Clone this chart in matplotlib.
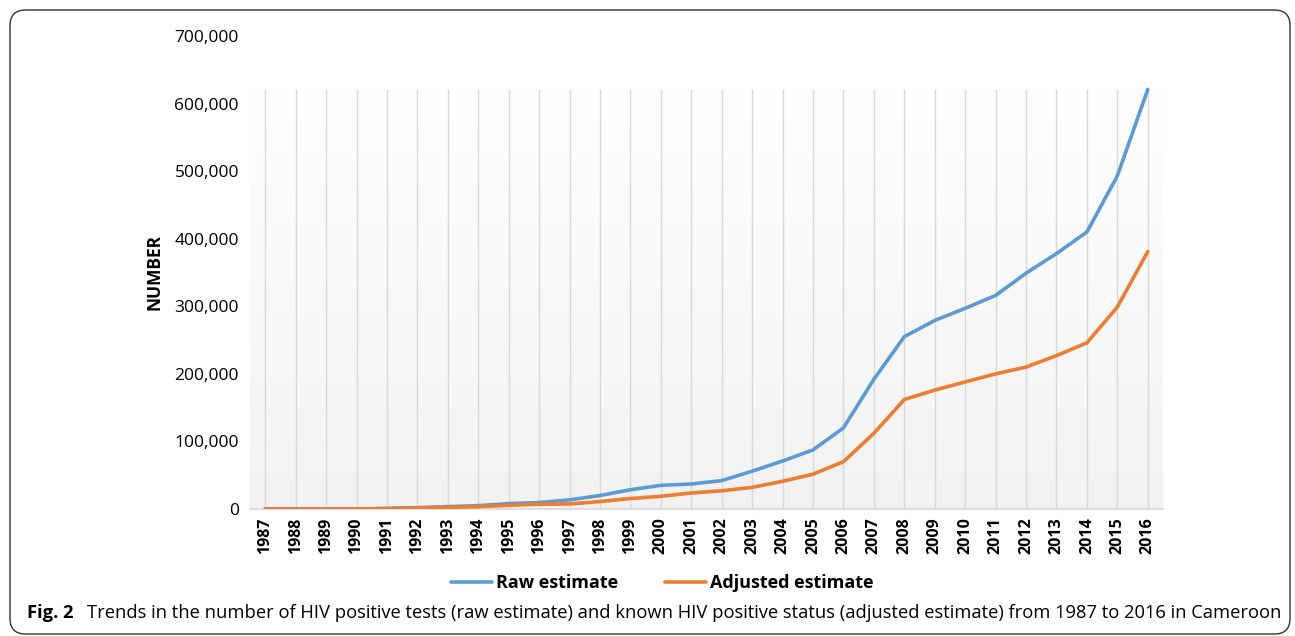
import matplotlib
matplotlib.use("Agg")
import matplotlib.pyplot as plt
import numpy as np
from matplotlib.patches import FancyBboxPatch
from matplotlib.ticker import FuncFormatter

years = list(range(1987, 2017))
raw_estimate = [0, 0, 0, 0, 1000, 2000, 3500, 5000, 8000, 9500,
                13500, 20000, 28500, 35000, 37000, 42000, 56000, 71000, 87500, 120000,
                192000, 255000, 279000, 297000, 316000, 349000, 378000, 410000, 493000, 621000]
adjusted_estimate = [0, 0, 0, 0, 500, 1500, 2500, 3500, 5500, 7000,
                     7500, 11000, 15500, 18800, 23700, 27000, 32000, 41000, 51500, 70000,
                     112000, 162000, 176000, 188000, 200000, 210000, 227000, 246000, 299000, 381000]

blue = "#5B9BD5"
orange = "#ED7D31"

fig = plt.figure(figsize=(12.95, 6.36), dpi=100)
ax = fig.add_axes([250 / 1295, 127 / 636, 913 / 1295, 473 / 636])

# plot area background: white at top fading to light grey
grad_top = 622000
grad = np.linspace(0, 1, 256).reshape(-1, 1)
ax.imshow(grad, extent=[1986.5, 2016.5, 0, grad_top], aspect="auto",
          cmap=matplotlib.colors.LinearSegmentedColormap.from_list("g", ["#f2f2f2", "#ffffff"]),
          origin="lower", zorder=0)
ax.vlines(years, 0, grad_top, colors="#d9d9d9", linewidth=1, zorder=1)

ax.plot(years, raw_estimate, color=blue, linewidth=2.6, label="Raw estimate", zorder=3,
        solid_joinstyle="round", solid_capstyle="round")
ax.plot(years, adjusted_estimate, color=orange, linewidth=2.6, label="Adjusted estimate", zorder=3,
        solid_joinstyle="round", solid_capstyle="round")

ax.set_xlim(1986.5, 2016.5)
ax.set_ylim(0, 700000)
ax.set_yticks(range(0, 700001, 100000))
ax.yaxis.set_major_formatter(FuncFormatter(lambda v, p: f"{int(v):,}"))
ax.set_xticks(years)
ax.set_xticklabels([str(y) for y in years], rotation=90, fontweight="bold",
                   fontsize=11.5, family="Open Sans")
for lab in ax.get_yticklabels():
    lab.set_family("Open Sans")
    lab.set_fontsize(12.5)
ax.tick_params(axis="both", length=0, colors="#000000")
ax.tick_params(axis="y", pad=8)
ax.tick_params(axis="x", pad=6)
for s in ["top", "right", "left"]:
    ax.spines[s].set_visible(False)
ax.spines["bottom"].set_color("#d9d9d9")
ax.spines["bottom"].set_linewidth(1.2)
ax.set_ylabel("NUMBER", fontweight="bold", fontsize=12.5, family="Open Sans", labelpad=8)

leg = fig.legend(loc="center", bbox_to_anchor=(662 / 1295, 1 - 583 / 636), ncol=2,
                 frameon=False, handlelength=2.3, handletextpad=0.2, columnspacing=2.6,
                 prop={"family": "Open Sans", "weight": "bold", "size": 13})

# caption
fig.text(27 / 1295, 1 - 613 / 636, "Fig. 2", fontweight="bold", fontsize=13.2,
         family="Open Sans", va="center")
fig.text(87 / 1295, 1 - 613 / 636,
         "Trends in the number of HIV positive tests (raw estimate) and known HIV positive status "
         "(adjusted estimate) from 1987 to 2016 in Cameroon",
         fontsize=13.2, family="Open Sans", va="center")

# rounded border
border = FancyBboxPatch((10 / 1295, 2 / 636), 1280 / 1295, 624 / 636,
                        boxstyle="round,pad=0,rounding_size=0.012",
                        transform=fig.transFigure, fill=False, edgecolor="#333333",
                        linewidth=1.0, mutation_aspect=1295 / 636)
fig.patches.append(border)

fig.savefig("out.png", dpi=100)
